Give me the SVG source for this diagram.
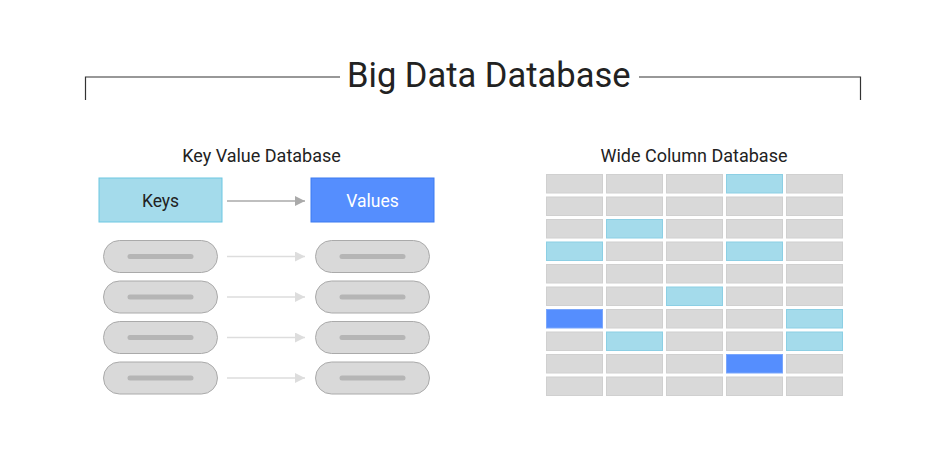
<svg xmlns="http://www.w3.org/2000/svg" width="950" height="450" viewBox="0 0 950 450">
<style>
text{font-family:Roboto,"Liberation Sans",sans-serif;fill:#222}
.frame{fill:none;stroke:#333;stroke-width:1.2}
.hdr{font-size:18px;text-anchor:middle}
.pill{fill:#d9d9d9;stroke:#aaa;stroke-width:1}
.bar{stroke:#b5b5b5;stroke-width:5;stroke-linecap:round}
.c{fill:#d9d9d9;stroke:#d0d0d0;stroke-width:1}
.lb{fill:#a4dbeb;stroke:#8ccfe4;stroke-width:1}
.db{fill:#558efe;stroke:#7aa6fb;stroke-width:1}
.a1{stroke:#aaa;stroke-width:1.5}
.a2{stroke:#ddd;stroke-width:1.5}
</style>
<defs>
<marker id="h1" viewBox="0 0 10 10" refX="10" refY="5" markerWidth="10" markerHeight="10" markerUnits="userSpaceOnUse" orient="auto"><path d="M0,0L10,5L0,10z" fill="#aaa"/></marker>
<marker id="h2" viewBox="0 0 10 10" refX="10" refY="5" markerWidth="10" markerHeight="10" markerUnits="userSpaceOnUse" orient="auto"><path d="M0,0L10,5L0,10z" fill="#ddd"/></marker>
</defs>
<rect width="950" height="450" fill="#fff"/>
<g id="title">
<path class="frame" d="M85.5,100V77H340M639,77H860.5V100"/>
<text x="347" y="87" font-size="34.5">Big Data Database</text>
</g>
<g id="kv">
<text class="hdr" x="261.5" y="162">Key Value Database</text>
<g id="keys"><rect x="99" y="178" width="123" height="44" fill="#a4dbeb" stroke="#6cc7e2"/><text x="160.5" y="206.5" font-size="17.5" text-anchor="middle">Keys</text></g>
<g id="values"><rect x="311" y="178" width="123" height="44" fill="#558efe" stroke="#3d7af0"/><text x="372.5" y="206.5" font-size="17.5" text-anchor="middle" style="fill:#fff">Values</text></g>
<g id="k1"><rect class="pill" x="103.5" y="240.5" width="114" height="32" rx="16"/><line class="bar" x1="130" y1="256.5" x2="191" y2="256.5"/></g>
<g id="v1"><rect class="pill" x="315.5" y="240.5" width="114" height="32" rx="16"/><line class="bar" x1="342" y1="256.5" x2="403" y2="256.5"/></g>
<g id="k2"><rect class="pill" x="103.5" y="281" width="114" height="32" rx="16"/><line class="bar" x1="130" y1="297" x2="191" y2="297"/></g>
<g id="v2"><rect class="pill" x="315.5" y="281" width="114" height="32" rx="16"/><line class="bar" x1="342" y1="297" x2="403" y2="297"/></g>
<g id="k3"><rect class="pill" x="103.5" y="321.5" width="114" height="32" rx="16"/><line class="bar" x1="130" y1="337.5" x2="191" y2="337.5"/></g>
<g id="v3"><rect class="pill" x="315.5" y="321.5" width="114" height="32" rx="16"/><line class="bar" x1="342" y1="337.5" x2="403" y2="337.5"/></g>
<g id="k4"><rect class="pill" x="103.5" y="362" width="114" height="32" rx="16"/><line class="bar" x1="130" y1="378" x2="191" y2="378"/></g>
<g id="v4"><rect class="pill" x="315.5" y="362" width="114" height="32" rx="16"/><line class="bar" x1="342" y1="378" x2="403" y2="378"/></g>
</g>
<g id="connectors">
<line class="a1" x1="227" y1="201" x2="305" y2="201" marker-end="url(#h1)"/>
<line class="a2" x1="227" y1="256.5" x2="305" y2="256.5" marker-end="url(#h2)"/>
<line class="a2" x1="227" y1="297" x2="305" y2="297" marker-end="url(#h2)"/>
<line class="a2" x1="227" y1="337.5" x2="305" y2="337.5" marker-end="url(#h2)"/>
<line class="a2" x1="227" y1="378" x2="305" y2="378" marker-end="url(#h2)"/>
</g>
<g id="wide">
<text class="hdr" x="694" y="162">Wide Column Database</text>
<g id="row0"><rect class="c" x="546.5" y="174.5" width="56" height="18.5"/><rect class="c" x="606.5" y="174.5" width="56" height="18.5"/><rect class="c" x="666.5" y="174.5" width="56" height="18.5"/><rect class="lb" x="726.5" y="174.5" width="56" height="18.5"/><rect class="c" x="786.5" y="174.5" width="56" height="18.5"/></g>
<g id="row1"><rect class="c" x="546.5" y="197" width="56" height="18.5"/><rect class="c" x="606.5" y="197" width="56" height="18.5"/><rect class="c" x="666.5" y="197" width="56" height="18.5"/><rect class="c" x="726.5" y="197" width="56" height="18.5"/><rect class="c" x="786.5" y="197" width="56" height="18.5"/></g>
<g id="row2"><rect class="c" x="546.5" y="219.5" width="56" height="18.5"/><rect class="lb" x="606.5" y="219.5" width="56" height="18.5"/><rect class="c" x="666.5" y="219.5" width="56" height="18.5"/><rect class="c" x="726.5" y="219.5" width="56" height="18.5"/><rect class="c" x="786.5" y="219.5" width="56" height="18.5"/></g>
<g id="row3"><rect class="lb" x="546.5" y="242" width="56" height="18.5"/><rect class="c" x="606.5" y="242" width="56" height="18.5"/><rect class="c" x="666.5" y="242" width="56" height="18.5"/><rect class="lb" x="726.5" y="242" width="56" height="18.5"/><rect class="c" x="786.5" y="242" width="56" height="18.5"/></g>
<g id="row4"><rect class="c" x="546.5" y="264.5" width="56" height="18.5"/><rect class="c" x="606.5" y="264.5" width="56" height="18.5"/><rect class="c" x="666.5" y="264.5" width="56" height="18.5"/><rect class="c" x="726.5" y="264.5" width="56" height="18.5"/><rect class="c" x="786.5" y="264.5" width="56" height="18.5"/></g>
<g id="row5"><rect class="c" x="546.5" y="287" width="56" height="18.5"/><rect class="c" x="606.5" y="287" width="56" height="18.5"/><rect class="lb" x="666.5" y="287" width="56" height="18.5"/><rect class="c" x="726.5" y="287" width="56" height="18.5"/><rect class="c" x="786.5" y="287" width="56" height="18.5"/></g>
<g id="row6"><rect class="db" x="546.5" y="309.5" width="56" height="18.5"/><rect class="c" x="606.5" y="309.5" width="56" height="18.5"/><rect class="c" x="666.5" y="309.5" width="56" height="18.5"/><rect class="c" x="726.5" y="309.5" width="56" height="18.5"/><rect class="lb" x="786.5" y="309.5" width="56" height="18.5"/></g>
<g id="row7"><rect class="c" x="546.5" y="332" width="56" height="18.5"/><rect class="lb" x="606.5" y="332" width="56" height="18.5"/><rect class="c" x="666.5" y="332" width="56" height="18.5"/><rect class="c" x="726.5" y="332" width="56" height="18.5"/><rect class="lb" x="786.5" y="332" width="56" height="18.5"/></g>
<g id="row8"><rect class="c" x="546.5" y="354.5" width="56" height="18.5"/><rect class="c" x="606.5" y="354.5" width="56" height="18.5"/><rect class="c" x="666.5" y="354.5" width="56" height="18.5"/><rect class="db" x="726.5" y="354.5" width="56" height="18.5"/><rect class="c" x="786.5" y="354.5" width="56" height="18.5"/></g>
<g id="row9"><rect class="c" x="546.5" y="377" width="56" height="18.5"/><rect class="c" x="606.5" y="377" width="56" height="18.5"/><rect class="c" x="666.5" y="377" width="56" height="18.5"/><rect class="c" x="726.5" y="377" width="56" height="18.5"/><rect class="c" x="786.5" y="377" width="56" height="18.5"/></g>
</g>
</svg>
